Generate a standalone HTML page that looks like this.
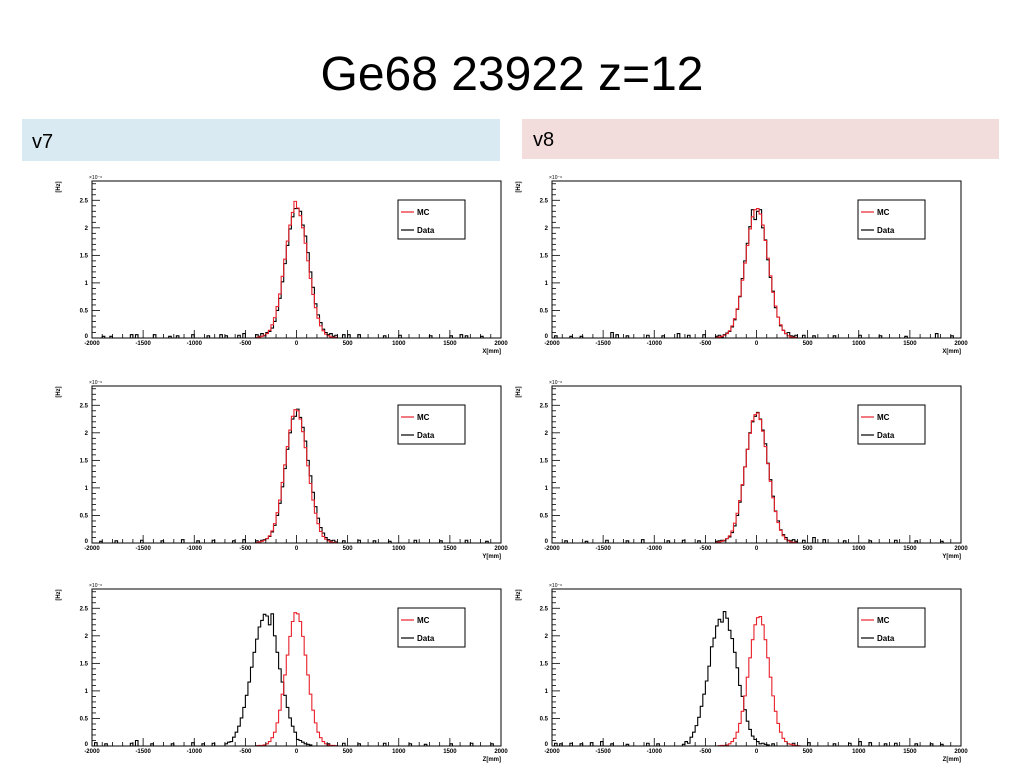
<!DOCTYPE html>
<html><head><meta charset="utf-8"><style>
body{margin:0;background:#fff;width:1024px;height:768px;overflow:hidden;font-family:"Liberation Sans",sans-serif;}
</style></head><body>
<svg id="s" width="1024" height="768" xmlns="http://www.w3.org/2000/svg" font-family="Liberation Sans, sans-serif">
<text x="512" y="90" text-anchor="middle" font-size="48" fill="#000">Ge68 23922 z=12</text>
<rect x="22" y="119" width="478" height="42" fill="#daeaf2"/>
<text x="32" y="148" font-size="20">v7</text>
<rect x="522" y="119" width="477" height="40" fill="#f2dcdc"/>
<text x="533" y="146" font-size="20">v8</text>
<g id="charts"></g>
</svg>
<script>
const binWidth = 25;
const xTicks = [-2000,-1500,-1000,-500,0,500,1000,1500,2000];
const yTicks = [0,0.5,1,1.5,2,2.5];
const yTickLabels = ["0","0.5","1","1.5","2","2.5"];
const axisTitles = ["X[mm]","Y[mm]","Z[mm]"];

const mcX7Start = -400;
const mcX7 = [0.01,0.02,0.03,0.05,0.08,0.14,0.24,0.37,0.57,0.80,1.12,1.43,1.76,2.05,2.28,2.48,2.36,2.22,2.00,1.72,1.40,1.08,0.79,0.55,0.36,0.22,0.13,0.07,0.04,0.02,0.01,0.01];
const dataX7Start = -400;
const dataX7 = [0.06,0.03,0.08,0.04,0.10,0.12,0.18,0.30,0.50,0.72,1.02,1.35,1.68,1.98,2.20,2.35,2.35,2.30,2.05,1.85,1.55,1.20,0.92,0.62,0.42,0.28,0.16,0.10,0.06,0.08,0.03,0.05];
const noiseX7 = [[-1887,0.03],[-1812,0.03],[-1612,0.06],[-1562,0.06],[-1388,0.06],[-1238,0.03],[-1162,0.04],[-1012,0.06],[-862,0.04],[-738,0.06],[-688,0.04],[-562,0.05],[-512,0.08],[462,0.06],[512,0.06],[612,0.06],[862,0.04],[1012,0.05],[1312,0.04],[1512,0.04],[1612,0.06],[1662,0.04],[1812,0.03]];

const mcX8Start = -400;
const mcX8 = [0.01,0.02,0.03,0.05,0.08,0.13,0.22,0.35,0.53,0.76,1.05,1.36,1.68,1.98,2.20,2.33,2.35,2.25,2.05,1.77,1.45,1.13,0.83,0.58,0.38,0.24,0.14,0.08,0.04,0.02,0.01,0.01];
const dataX8Start = -400;
const dataX8 = [0.03,0.05,0.02,0.06,0.09,0.12,0.20,0.33,0.52,0.75,1.08,1.40,1.72,2.02,2.33,2.15,2.30,2.33,2.00,1.78,1.42,1.10,0.85,0.55,0.38,0.22,0.14,0.08,0.10,0.04,0.03,0.05];
const noiseX8 = [[-1962,0.04],[-1812,0.03],[-1712,0.03],[-1412,0.10],[-1362,0.06],[-1262,0.04],[-1062,0.05],[-912,0.04],[-762,0.08],[-662,0.05],[-512,0.06],[462,0.05],[562,0.04],[762,0.04],[1012,0.05],[1212,0.04],[1462,0.03],[1762,0.08],[1912,0.04]];

const mcY7Start = -400;
const mcY7 = [0.01,0.02,0.03,0.05,0.08,0.13,0.22,0.35,0.55,0.78,1.10,1.42,1.75,2.05,2.30,2.42,2.40,2.25,2.02,1.73,1.40,1.08,0.78,0.54,0.35,0.21,0.12,0.07,0.04,0.02,0.01,0.01];
const dataY7Start = -400;
const dataY7 = [0.04,0.02,0.05,0.06,0.08,0.12,0.20,0.32,0.50,0.72,1.02,1.35,1.70,2.00,2.25,2.30,2.43,2.28,2.10,1.85,1.50,1.22,0.92,0.66,0.45,0.28,0.18,0.10,0.06,0.04,0.05,0.02];
const noiseY7 = [[-1912,0.03],[-1762,0.04],[-1512,0.05],[-1312,0.04],[-1112,0.06],[-962,0.04],[-812,0.05],[-612,0.04],[-512,0.06],[462,0.04],[612,0.05],[762,0.04],[912,0.03],[1162,0.05],[1412,0.04],[1662,0.05],[1862,0.03]];

const mcY8Start = -400;
const mcY8 = [0.01,0.02,0.03,0.05,0.08,0.13,0.22,0.36,0.54,0.77,1.06,1.38,1.70,1.99,2.22,2.33,2.36,2.24,2.03,1.75,1.44,1.12,0.82,0.57,0.37,0.23,0.13,0.07,0.04,0.02,0.01,0.01];
const dataY8Start = -400;
const dataY8 = [0.03,0.04,0.05,0.04,0.08,0.11,0.19,0.31,0.50,0.74,1.05,1.38,1.70,2.00,2.20,2.30,2.37,2.25,2.05,1.80,1.45,1.15,0.85,0.58,0.40,0.24,0.15,0.10,0.05,0.04,0.06,0.03];
const noiseY8 = [[-1862,0.04],[-1662,0.03],[-1462,0.05],[-1262,0.04],[-1112,0.06],[-862,0.04],[-712,0.05],[-562,0.04],[462,0.05],[562,0.10],[662,0.06],[862,0.04],[1112,0.04],[1362,0.05],[1562,0.04],[1812,0.03]];

const mcZ7Start = -400;
const mcZ7 = [0.005,0.01,0.01,0.02,0.04,0.08,0.15,0.25,0.42,0.65,0.94,1.29,1.65,1.99,2.26,2.42,2.40,2.26,1.99,1.65,1.29,0.94,0.65,0.42,0.25,0.15,0.08,0.04,0.02,0.01,0.01,0.005];
const dataZ7Start = -700;
const dataZ7 = [0.04,0.07,0.08,0.16,0.25,0.36,0.51,0.70,0.92,1.16,1.43,1.70,1.94,2.16,2.28,2.39,2.36,2.20,2.40,2.00,1.70,1.40,1.16,0.92,0.70,0.51,0.36,0.25,0.12,0.10,0.07,0.04,0.03,0.02];
const noiseZ7 = [[-1962,0.06],[-1862,0.04],[-1612,0.05],[-1562,0.10],[-1412,0.04],[-1212,0.04],[-1012,0.06],[-912,0.04],[-812,0.05],[112,0.04],[312,0.04],[462,0.05],[612,0.04],[862,0.05],[1112,0.04],[1262,0.03],[1512,0.04],[1712,0.05],[1912,0.04]];

const mcZ8Start = -375;
const mcZ8 = [0.005,0.01,0.01,0.02,0.04,0.08,0.14,0.25,0.41,0.63,0.91,1.25,1.60,1.93,2.20,2.33,2.35,2.20,1.93,1.60,1.25,0.91,0.63,0.41,0.25,0.14,0.08,0.04,0.03,0.02,0.01,0.005];
const dataZ8Start = -725;
const dataZ8 = [0.03,0.08,0.05,0.16,0.25,0.37,0.52,0.72,0.94,1.18,1.45,1.80,1.96,2.18,2.30,2.25,2.44,2.32,2.10,1.95,1.70,1.42,1.10,0.90,0.66,0.45,0.30,0.18,0.12,0.08,0.04,0.05,0.03,0.02];
const noiseZ8 = [[-1962,0.05],[-1912,0.04],[-1812,0.05],[-1712,0.04],[-1612,0.06],[-1512,0.08],[-1412,0.04],[-1262,0.03],[-1062,0.05],[-962,0.04],[162,0.04],[362,0.05],[512,0.06],[762,0.04],[912,0.05],[1012,0.08],[1112,0.06],[1262,0.04],[1362,0.05],[1562,0.04],[1712,0.04],[1812,0.03]];

const panels = [
 {L:92,T:181,row:0,mc:mcX7,mcS:mcX7Start,d:dataX7,dS:dataX7Start,n:noiseX7,name:'v7-x'},
 {L:552,T:181,row:0,mc:mcX8,mcS:mcX8Start,d:dataX8,dS:dataX8Start,n:noiseX8,name:'v8-x'},
 {L:92,T:386,row:1,mc:mcY7,mcS:mcY7Start,d:dataY7,dS:dataY7Start,n:noiseY7,name:'v7-y'},
 {L:552,T:386,row:1,mc:mcY8,mcS:mcY8Start,d:dataY8,dS:dataY8Start,n:noiseY8,name:'v8-y'},
 {L:92,T:589,row:2,mc:mcZ7,mcS:mcZ7Start,d:dataZ7,dS:dataZ7Start,n:noiseZ7,name:'v7-z'},
 {L:552,T:589,row:2,mc:mcZ8,mcS:mcZ8Start,d:dataZ8,dS:dataZ8Start,n:noiseZ8,name:'v8-z'}
];
const W=409,H=157,YMAX=2.85,NS='http://www.w3.org/2000/svg';
const root=document.getElementById('charts');
function mk(tag,attrs,parent){const e=document.createElementNS(NS,tag);for(const k in attrs)e.setAttribute(k,attrs[k]);parent.appendChild(e);return e;}
function fullBins(start,vals,noise){
  const n=4000/binWidth, a=new Array(n).fill(0);
  if(noise) noise.forEach(p=>{const i=Math.floor((p[0]+2000)/binWidth);if(i>=0&&i<n)a[i]=p[1];});
  const s=Math.round((start+2000)/binWidth);
  vals.forEach((v,i)=>{if(s+i>=0&&s+i<n)a[s+i]=v;});
  return a;
}
panels.forEach(p=>{
  const g=mk('g',{},root);
  
  
  const sx=v=>p.L+(v+2000)/4000*W, sy=v=>p.T+H-v/YMAX*H, B=p.T+H;
  function step(arr,color,nm){
    let d='M'+sx(-2000)+' '+sy(arr[0]);
    arr.forEach((v,i)=>{const x0=-2000+i*binWidth;d+=' H'+sx(x0)+' V'+sy(v)+' H'+sx(x0+binWidth);});
    const path=mk('path',{d:d,fill:'none',stroke:color,'stroke-width':1.1},g);
    
    
  }
  step(fullBins(p.d.length?p.dS:0,p.d,p.n),'#000','data-histogram');
  step(fullBins(p.mcS,p.mc,null),'#e8202a','mc-histogram');
  const fr=mk('rect',{x:p.L,y:p.T,width:W,height:H,fill:'none',stroke:'#000','stroke-width':1},g);
  
  
  for(let v=-2000;v<=2000;v+=100){const maj=v%500===0;mk('line',{x1:sx(v),x2:sx(v),y1:B,y2:B-(maj?8:4),stroke:'#000','stroke-width':0.8},g);}
  for(let k=0;k<=28;k++){const v=k*0.1;const maj=k%5===0;mk('line',{x1:p.L,x2:p.L+(maj?8:4),y1:sy(v),y2:sy(v),stroke:'#000','stroke-width':0.8},g);}
  xTicks.forEach(v=>{const t=mk('text',{x:sx(v),y:B+7,'font-size':6,'font-weight':'bold','text-anchor':'middle'},g);t.textContent=String(v);});
  yTicks.forEach((v,i)=>{const t=mk('text',{x:p.L-4,y:sy(v)+2+(v===0?-2:0),'font-size':6,'font-weight':'bold','text-anchor':'end'},g);t.textContent=yTickLabels[i];});
  const xt=mk('text',{x:p.L+W,y:B+15,'font-size':6,'font-weight':'bold','text-anchor':'end'},g);xt.textContent=axisTitles[p.row];
  
  const ex=mk('text',{x:p.L-3,y:p.T-2,'font-size':5},g);ex.textContent='×10⁻⁶';
  
  const yt=mk('text',{x:0,y:0,'font-size':6,'font-weight':'bold','text-anchor':'middle',transform:'translate('+(p.L-32)+','+(p.T+6)+') rotate(-90)'},g);yt.textContent='[Hz]';
  
  const lg=mk('g',{},g);
  
  mk('rect',{x:p.L+306,y:p.T+19,width:67,height:39,fill:'#fff',stroke:'#000','stroke-width':1},lg);
  [['MC','#e8202a',p.T+31],['Data','#000',p.T+49]].forEach(e=>{
    mk('line',{x1:p.L+309,x2:p.L+322,y1:e[2],y2:e[2],stroke:e[1],'stroke-width':1.2},lg);
    const t=mk('text',{x:p.L+325,y:e[2]+3,'font-size':8,'font-weight':'bold'},lg);t.textContent=e[0];
    
  });
});
</script>
</body></html>
